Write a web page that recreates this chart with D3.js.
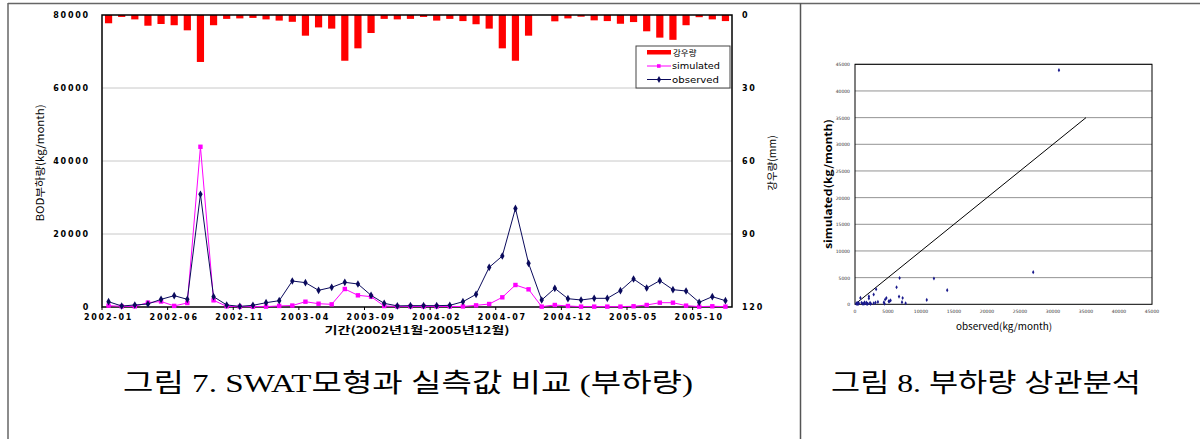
<!DOCTYPE html>
<html>
<head>
<meta charset="utf-8">
<script src="https://cdn.jsdelivr.net/npm/d3@7"></script>
<style>
  html, body { margin: 0; padding: 0; background: #fff; }
  svg { display: block; }
</style>
</head>
<body>
<svg id="fig" width="1200" height="439"></svg>
<script>
// Monthly categories 2002-01 .. 2005-12
const months = [
  "2002-01","2002-02","2002-03","2002-04","2002-05","2002-06","2002-07","2002-08","2002-09","2002-10","2002-11","2002-12",
  "2003-01","2003-02","2003-03","2003-04","2003-05","2003-06","2003-07","2003-08","2003-09","2003-10","2003-11","2003-12",
  "2004-01","2004-02","2004-03","2004-04","2004-05","2004-06","2004-07","2004-08","2004-09","2004-10","2004-11","2004-12",
  "2005-01","2005-02","2005-03","2005-04","2005-05","2005-06","2005-07","2005-08","2005-09","2005-10","2005-11","2005-12"
];
// Labelled months on the time axis
const monthTicks = ["2002-01","2002-06","2002-11","2003-04","2003-09","2004-02","2004-07","2004-12","2005-05","2005-10"];

// Rainfall (mm)
const rainfall = [3.4, 0.8, 1.8, 4.4, 3.7, 4.2, 6.3, 19.3, 4.2, 1.6, 1.4, 1.2,
                  1.8, 2.3, 2.8, 8.5, 5.1, 5.6, 18.8, 13.7, 7.4, 1.6, 1.8, 1.6,
                  0.8, 2.3, 1.6, 2.5, 3.8, 5.6, 13.7, 18.8, 8.5, 0, 2.6, 1.4,
                  0.7, 2.2, 2.5, 3.6, 2.9, 6.7, 9.3, 10.2, 4.2, 0.9, 1.8, 2.5];

// BOD load, simulated (kg/month)
const simulated = [370, 180, 180, 1200, 1500, 300, 1100, 43900, 1830, 180, 100, 100,
                   100, 300, 400, 1450, 900, 730, 4930, 3200, 2830, 270, 150, 150,
                   150, 150, 150, 150, 450, 820, 2650, 6030, 4840, 100, 550, 270,
                   100, 100, 100, 100, 200, 550, 1180, 1180, 370, 100, 200, 100];

// BOD load, observed (kg/month)
const observed = [1450, 270, 550, 820, 2100, 3100, 2100, 30900, 2830, 550, 180, 460,
                  1180, 1730, 7120, 6670, 4570, 5390, 6760, 6300, 3200, 1000, 300, 370,
                  370, 370, 450, 1450, 3470, 10870, 13970, 27000, 11960, 1920, 5110, 2280,
                  1920, 2380, 2380, 4480, 7670, 5200, 7220, 4750, 4380, 1280, 2830, 1730];

const loadTicks = [0, 20000, 40000, 60000, 80000];
const rainTicks = [0, 30, 60, 90, 120];
const scatterTicks = [0, 5000, 10000, 15000, 20000, 25000, 30000, 35000, 40000, 45000];
const oneToOne = [0, 35000];

const svg = d3.select("#fig");
const NAVY = "#0a0a5c", MAGENTA = "#ff00ff", RED = "#ff0000";
const tickFont = "'DejaVu Sans', sans-serif";
const cjk = "'Noto Sans CJK KR', sans-serif";

// ---------- page frame (table borders) ----------
svg.append("line").attr("x1", 8).attr("x2", 1200).attr("y1", 3.5).attr("y2", 3.5)
  .attr("stroke", "#666").attr("stroke-width", 1.5);
svg.append("line").attr("x1", 8).attr("x2", 8).attr("y1", 3).attr("y2", 439)
  .attr("stroke", "#666").attr("stroke-width", 1.5);
svg.append("line").attr("x1", 800.5).attr("x2", 800.5).attr("y1", 3).attr("y2", 439)
  .attr("stroke", "#555").attr("stroke-width", 1.5);

// ---------- time-series chart ----------
const L = { left: 102, right: 732, top: 15, bottom: 307 };
const x = d3.scaleBand().domain(months).range([L.left, L.right]);
const cx = m => x(m) + x.bandwidth() / 2;
const yLoad = d3.scaleLinear().domain([0, 80000]).range([L.bottom, L.top]);
const yRain = d3.scaleLinear().domain([0, 120]).range([L.top, L.bottom]);

const g = svg.append("g");

// horizontal gridlines
g.append("g").selectAll("line").data(loadTicks.filter(t => t > 0 && t < 80000)).join("line")
  .attr("x1", L.left).attr("x2", L.right)
  .attr("y1", d => yLoad(d)).attr("y2", d => yLoad(d))
  .attr("stroke", "#c8c8c8").attr("stroke-width", 1);

// rainfall bars hanging from the top
g.append("g").selectAll("rect").data(months).join("rect")
  .attr("x", m => cx(m) - 3.6)
  .attr("y", yRain(0))
  .attr("width", 7.2)
  .attr("height", (m, i) => yRain(rainfall[i]) - yRain(0))
  .attr("fill", RED);

// plot frame
g.append("rect").attr("x", L.left).attr("y", L.top)
  .attr("width", L.right - L.left).attr("height", L.bottom - L.top)
  .attr("fill", "none").attr("stroke", "#000").attr("stroke-width", 1.5);

// left axis labels
g.append("g").selectAll("text").data(loadTicks).join("text")
  .attr("x", 90).attr("y", d => yLoad(d) + 3)
  .attr("text-anchor", "end")
  .attr("font-family", tickFont).attr("font-weight", "bold").attr("font-size", 8)
  .attr("letter-spacing", 1.8)
  .text(d => d);

// right axis labels
g.append("g").selectAll("text").data(rainTicks).join("text")
  .attr("x", 742).attr("y", d => yRain(d) + 3)
  .attr("font-family", tickFont).attr("font-weight", "bold").attr("font-size", 8)
  .attr("letter-spacing", 1.8)
  .text(d => d);

// bottom axis labels and ticks
g.append("g").selectAll("text").data(monthTicks).join("text")
  .attr("x", m => cx(m)).attr("y", 320)
  .attr("text-anchor", "middle")
  .attr("font-family", tickFont).attr("font-weight", "bold").attr("font-size", 8)
  .attr("letter-spacing", 1.8)
  .text(m => m);
g.append("g").selectAll("line").data(monthTicks).join("line")
  .attr("x1", m => x(m)).attr("x2", m => x(m))
  .attr("y1", L.bottom).attr("y2", L.bottom + 3)
  .attr("stroke", "#000");

// axis titles
g.append("text")
  .attr("transform", "translate(44,163) rotate(-90)")
  .attr("text-anchor", "middle")
  .attr("font-family", cjk).attr("font-size", 10.5)
  .attr("textLength", 117).attr("lengthAdjust", "spacingAndGlyphs")
  .text("BOD부하량(kg/month)");
g.append("text")
  .attr("transform", "translate(776,163) rotate(-90)")
  .attr("text-anchor", "middle")
  .attr("font-family", cjk).attr("font-size", 10.5)
  .text("강우량(mm)");
g.append("text")
  .attr("x", 417).attr("y", 334)
  .attr("text-anchor", "middle")
  .attr("font-family", cjk).attr("font-size", 10.5).attr("font-weight", "bold")
  .attr("textLength", 185).attr("lengthAdjust", "spacingAndGlyphs")
  .text("기간(2002년1월-2005년12월)");

// simulated series
const line = vals => d3.line().x((d, i) => cx(months[i])).y(d => yLoad(d))(vals);
g.append("path").attr("d", line(simulated))
  .attr("fill", "none").attr("stroke", MAGENTA).attr("stroke-width", 1);
g.append("g").selectAll("rect").data(simulated).join("rect")
  .attr("x", (d, i) => cx(months[i]) - 2.2).attr("y", d => yLoad(d) - 2.2)
  .attr("width", 4.4).attr("height", 4.4).attr("fill", MAGENTA);

// observed series
g.append("path").attr("d", line(observed))
  .attr("fill", "none").attr("stroke", NAVY).attr("stroke-width", 1);
const diamond = d3.symbol().type(d3.symbolDiamond).size(17);
g.append("g").selectAll("path").data(observed).join("path")
  .attr("d", diamond)
  .attr("transform", (d, i) => `translate(${cx(months[i])},${yLoad(d)})`)
  .attr("fill", NAVY);

// legend
const lg = g.append("g");
lg.append("rect").attr("x", 636).attr("y", 46).attr("width", 94).attr("height", 42)
  .attr("fill", "#fff").attr("stroke", "#444").attr("stroke-width", 1);
lg.append("rect").attr("x", 647).attr("y", 50).attr("width", 24).attr("height", 4.5).attr("fill", RED);
lg.append("text").attr("x", 673).attr("y", 55.5)
  .attr("font-family", cjk).attr("font-size", 8.5).text("강우량");
lg.append("line").attr("x1", 647).attr("x2", 671).attr("y1", 66).attr("y2", 66)
  .attr("stroke", MAGENTA).attr("stroke-width", 1);
lg.append("rect").attr("x", 657).attr("y", 64.2).attr("width", 3.6).attr("height", 3.6).attr("fill", MAGENTA);
lg.append("text").attr("x", 672).attr("y", 69)
  .attr("font-family", tickFont).attr("font-size", 8.5)
  .attr("textLength", 48).attr("lengthAdjust", "spacingAndGlyphs").text("simulated");
lg.append("line").attr("x1", 647).attr("x2", 671).attr("y1", 79.5).attr("y2", 79.5)
  .attr("stroke", NAVY).attr("stroke-width", 1);
lg.append("path").attr("d", d3.symbol().type(d3.symbolDiamond).size(14))
  .attr("transform", "translate(659,79.5)").attr("fill", NAVY);
lg.append("text").attr("x", 672).attr("y", 82.5)
  .attr("font-family", tickFont).attr("font-size", 8.5)
  .attr("textLength", 47).attr("lengthAdjust", "spacingAndGlyphs").text("observed");

// ---------- scatter (observed vs simulated) ----------
const S = { left: 855, right: 1152, top: 64.3, bottom: 304.3 };
const sx = d3.scaleLinear().domain([0, 45000]).range([S.left, S.right]);
const sy = d3.scaleLinear().domain([0, 45000]).range([S.bottom, S.top]);
const s = svg.append("g");

s.append("g").selectAll("line").data(scatterTicks.slice(1)).join("line")
  .attr("x1", S.left).attr("x2", S.right)
  .attr("y1", d => sy(d)).attr("y2", d => sy(d))
  .attr("stroke", "#777").attr("stroke-width", 0.8);
s.append("rect").attr("x", S.left).attr("y", S.top)
  .attr("width", S.right - S.left).attr("height", S.bottom - S.top)
  .attr("fill", "none").attr("stroke", "#000").attr("stroke-width", 1);

s.append("g").selectAll("text").data(scatterTicks).join("text")
  .attr("x", 850).attr("y", d => sy(d) + 2)
  .attr("text-anchor", "end")
  .attr("font-family", tickFont).attr("font-size", 4.5).attr("fill", "#333")
  .text(d => d);
s.append("g").selectAll("text").data(scatterTicks).join("text")
  .attr("x", d => sx(d)).attr("y", 313)
  .attr("text-anchor", "middle")
  .attr("font-family", tickFont).attr("font-size", 4.5).attr("fill", "#333")
  .text(d => d);

// 1:1 reference line
s.append("line")
  .attr("x1", sx(oneToOne[0])).attr("y1", sy(oneToOne[0]))
  .attr("x2", sx(oneToOne[1])).attr("y2", sy(oneToOne[1]))
  .attr("stroke", "#000").attr("stroke-width", 1);

s.append("g").selectAll("path").data(observed).join("path")
  .attr("d", d3.symbol().type(d3.symbolDiamond).size(5))
  .attr("transform", (d, i) => `translate(${sx(d)},${sy(simulated[i])})`)
  .attr("fill", "#1a1a8c");

s.append("text").attr("x", 1004).attr("y", 330)
  .attr("text-anchor", "middle")
  .attr("font-family", cjk).attr("font-size", 9.5)
  .attr("textLength", 96).attr("lengthAdjust", "spacingAndGlyphs")
  .text("observed(kg/month)");
s.append("text")
  .attr("transform", "translate(832,184) rotate(-90)")
  .attr("text-anchor", "middle")
  .attr("font-family", cjk).attr("font-size", 10).attr("font-weight", "bold")
  .attr("textLength", 130).attr("lengthAdjust", "spacingAndGlyphs")
  .text("simulated(kg/month)");

// ---------- captions ----------
const capFont = "'Liberation Serif', 'Noto Sans CJK KR', serif";
svg.append("text").attr("x", 123).attr("y", 392)
  .attr("font-family", capFont).attr("font-size", 26)
  .attr("textLength", 570).attr("lengthAdjust", "spacingAndGlyphs")
  .text("그림 7. SWAT모형과 실측값 비교 (부하량)");
svg.append("text").attr("x", 831).attr("y", 392)
  .attr("font-family", capFont).attr("font-size", 26)
  .attr("textLength", 310).attr("lengthAdjust", "spacingAndGlyphs")
  .text("그림 8. 부하량 상관분석");
</script>
</body>
</html>
